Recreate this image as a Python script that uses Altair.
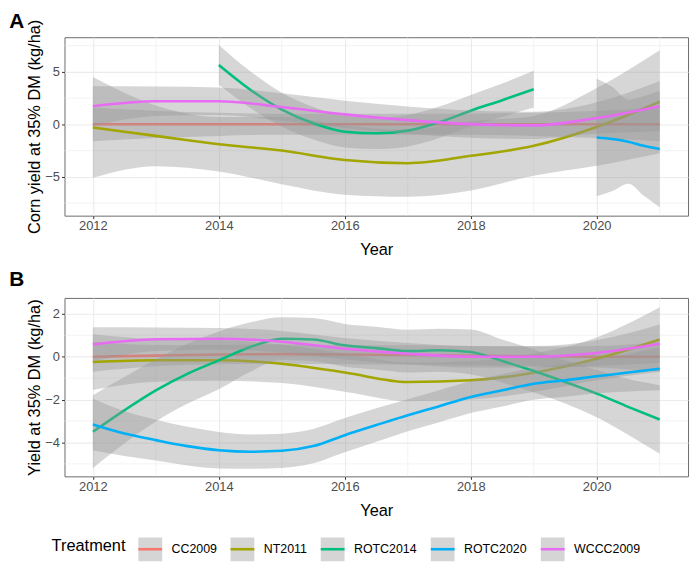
import altair as alt
import pandas as pd

treatments = ["CC2009", "NT2011", "ROTC2014", "ROTC2020", "WCCC2009"]
colors = ["#F8766D", "#A3A500", "#00BF7D", "#00B0F6", "#E76BF3"]

years = [2012, 2013, 2014, 2015, 2016, 2017, 2018, 2019, 2020, 2021]
half_years = [2012, 2012.5, 2013, 2013.5, 2014, 2014.5, 2015, 2015.5, 2016, 2016.5,
              2017, 2017.5, 2018, 2018.5, 2019, 2019.5, 2020, 2020.5, 2021]

# ---- Panel A: Corn yield (fit and half-width of the confidence band)
a_cc_year = years
a_cc_fit = [0.0, 0.0, 0.0, 0.0, 0.0, 0.0, 0.0, 0.0, 0.0, 0.0]
a_cc_hw = [1.6, 1.3, 1.1, 1.0, 1.0, 1.0, 1.0, 1.1, 1.3, 1.6]

a_nt_year = years
a_nt_fit = [-0.3, -1.1, -1.9, -2.5, -3.4, -3.7, -3.0, -2.05, -0.25, 2.15]
a_nt_hw = [4.8, 2.9, 2.6, 3.2, 3.3, 3.2, 3.3, 2.85, 3.7, 4.9]

a_r14_year = [2014, 2014.5, 2015, 2015.5, 2016, 2016.5, 2017, 2017.5, 2018, 2018.5, 2019]
a_r14_fit = [5.66, 3.3, 1.4, 0.1, -0.7, -0.85, -0.6, 0.2, 1.3, 2.3, 3.35]
a_r14_hw = [1.9, 1.75, 1.6, 1.55, 1.5, 1.5, 1.5, 1.5, 1.5, 1.6, 1.75]

a_r20_year = [2020, 2020.25, 2020.5, 2020.75, 2021]
a_r20_fit = [-1.25, -1.4, -1.65, -2.05, -2.36]
a_r20_hw = [5.6, 4.95, 4.0, 4.75, 5.55]

a_wc_year = years
a_wc_fit = [1.73, 2.2, 2.2, 1.65, 0.95, 0.4, 0.02, -0.1, 0.6, 1.73]
a_wc_hw = [1.9, 1.4, 1.3, 1.3, 1.3, 1.3, 1.3, 1.3, 1.5, 2.4]

# ---- Panel B: Yield
b_cc_year = years
b_cc_fit = [0.0, 0.05, 0.1, 0.12, 0.1, 0.08, 0.05, 0.02, 0.0, 0.0]
b_cc_hw = [0.7, 0.5, 0.45, 0.45, 0.45, 0.45, 0.45, 0.45, 0.5, 0.7]

b_nt_year = years
b_nt_fit = [-0.25, -0.17, -0.17, -0.33, -0.74, -1.18, -1.1, -0.75, -0.1, 0.8]
b_nt_hw = [1.3, 1.0, 0.95, 0.9, 0.9, 0.9, 0.9, 0.9, 1.0, 1.5]

b_r14_year = half_years
b_r14_fit = [-3.5, -2.5, -1.57, -0.8, -0.17, 0.45, 0.84, 0.8, 0.53, 0.4,
             0.26, 0.3, 0.22, -0.2, -0.67, -1.18, -1.72, -2.34, -2.93]
b_r14_hw = [1.7, 1.55, 1.45, 1.4, 1.35, 1.15, 1.0, 1.0, 1.0, 1.0,
            1.0, 1.0, 1.05, 1.0, 1.0, 1.0, 1.1, 1.3, 1.6]

b_r20_year = half_years
b_r20_fit = [-3.16, -3.58, -3.89, -4.17, -4.36, -4.43, -4.39, -4.17, -3.66, -3.19,
             -2.73, -2.31, -1.88, -1.57, -1.26, -1.1, -0.91, -0.74, -0.56]
b_r20_hw = [1.2, 1.05, 0.95, 0.9, 0.85, 0.8, 0.8, 0.8, 0.8, 0.78,
            0.75, 0.75, 0.75, 0.75, 0.75, 0.77, 0.8, 0.88, 1.0]

b_wc_year = years
b_wc_fit = [0.57, 0.81, 0.84, 0.7, 0.37, 0.14, 0.0, 0.0, 0.17, 0.6]
b_wc_hw = [0.8, 0.55, 0.5, 0.5, 0.5, 0.5, 0.5, 0.5, 0.6, 0.9]

x_major = [2012, 2014, 2016, 2018, 2020]
x_minor = [2013, 2015, 2017, 2019, 2021]
a_y_major = [-5, 0, 5]
a_y_minor = [-7.5, -2.5, 2.5, 7.5]
b_y_major = [-4, -2, 0, 2]
b_y_minor = [-5, -3, -1, 1]


def make_df(series):
    rows = []
    for name, yr, fit, hw in series:
        for y, f, h in zip(yr, fit, hw):
            rows.append({"Treatment": name, "Key": name, "Year": y,
                         "fit": f, "lo": f - h, "hi": f + h})
    return pd.DataFrame(rows)


df_a = make_df([
    ("CC2009", a_cc_year, a_cc_fit, a_cc_hw),
    ("NT2011", a_nt_year, a_nt_fit, a_nt_hw),
    ("ROTC2014", a_r14_year, a_r14_fit, a_r14_hw),
    ("ROTC2020", a_r20_year, a_r20_fit, a_r20_hw),
    ("WCCC2009", a_wc_year, a_wc_fit, a_wc_hw),
])
df_b = make_df([
    ("CC2009", b_cc_year, b_cc_fit, b_cc_hw),
    ("NT2011", b_nt_year, b_nt_fit, b_nt_hw),
    ("ROTC2014", b_r14_year, b_r14_fit, b_r14_hw),
    ("ROTC2020", b_r20_year, b_r20_fit, b_r20_hw),
    ("WCCC2009", b_wc_year, b_wc_fit, b_wc_hw),
])

FONT = "Liberation Sans"
LX, LY = -13, 503

common_leg = dict(orient="none", legendX=LX, legendY=LY, direction="horizontal",
                  title="Treatment", titleOrient="left", symbolStrokeWidth=2.6)
fill_legend = alt.Legend(symbolType="square", symbolOpacity=0.4, symbolStrokeColor="transparent",
                         labelOpacity=0, titleOpacity=0, labelColor="transparent",
                         titleColor="transparent", zindex=0, **common_leg)
stroke_legend = alt.Legend(symbolType="stroke", zindex=1, **common_leg)

fill_scale = alt.Scale(range=["#999999"] * 5)
stroke_scale = alt.Scale(domain=treatments, range=colors)


def build_panel(df, ydom, ymaj, ymin, ytitle, label, toff):
    xs = alt.Scale(domain=[2011.55, 2021.45], nice=False, zero=False)
    ys = alt.Scale(domain=ydom, nice=False, zero=False)
    ax_x = alt.Axis(values=x_major, format="d", title="Year", grid=True, gridColor="#EBEBEB",
                    gridWidth=1.1, domain=False, tickColor="#333333", tickSize=3, labelPadding=1,
                    labelFontSize=13, labelColor="#4D4D4D", labelFont=FONT, titleFont=FONT,
                    titleFontSize=16.5, titleFontWeight="normal", titleColor="black",
                    titlePadding=9, zindex=0)
    ax_y = alt.Axis(values=ymaj, format="d", title=ytitle, grid=True, gridColor="#EBEBEB",
                    gridWidth=1.1, domain=False, tickColor="#333333", tickSize=3, labelPadding=2,
                    labelFontSize=13, labelColor="#4D4D4D", labelFont=FONT, titleFont=FONT,
                    titleFontSize=16.5, titleFontWeight="normal", titleColor="black",
                    titlePadding=2, zindex=0)
    vgrid = alt.Chart(pd.DataFrame({"Year": x_minor})).mark_rule(
        color="#EBEBEB", strokeWidth=0.6).encode(x=alt.X("Year:Q", scale=xs, axis=ax_x))
    hgrid = alt.Chart(pd.DataFrame({"lo": ymin})).mark_rule(
        color="#EBEBEB", strokeWidth=0.6).encode(y=alt.Y("lo:Q", scale=ys, axis=ax_y))
    layers = [vgrid, hgrid]
    for t in treatments:
        sub = df[df["Treatment"] == t]
        band = alt.Chart(sub).mark_area(fillOpacity=0.4, interpolate="monotone").encode(
            x=alt.X("Year:Q", scale=xs, axis=None),
            y=alt.Y("lo:Q", scale=ys, axis=None),
            y2="hi:Q",
            fill=alt.Fill("Key:N", scale=fill_scale, legend=fill_legend),
        )
        line = alt.Chart(sub).mark_line(strokeWidth=2.6, interpolate="monotone").encode(
            x=alt.X("Year:Q", scale=xs, axis=None),
            y=alt.Y("fit:Q", scale=ys, axis=None),
            stroke=alt.Stroke("Treatment:N", scale=stroke_scale, legend=stroke_legend),
        )
        layers += [band, line]
    return alt.layer(*layers).resolve_axis(x="independent", y="independent").properties(
        width=629, height=180,
        title=alt.TitleParams(label, anchor="start", frame="bounds", fontSize=21, fontWeight="bold",
                              font=FONT, color="black", offset=toff, dx=-18),
    )


pa = build_panel(df_a, [-8.7, 8.3], a_y_major, a_y_minor, "Corn yield at 35% DM (kg/ha)", "A", -13)
pb = build_panel(df_b, [-5.58, 2.74], b_y_major, b_y_minor, "Yield at 35% DM (kg/ha)", "B", 8)

chart = alt.vconcat(pa, pb, spacing=10).properties(
    padding={"left": 0, "top": 0, "right": 2, "bottom": 2}
).configure_view(
    stroke="#6B6B6B", strokeWidth=1, fill="white"
).configure_legend(
    symbolSize=576, labelFontSize=12.5, titleFontSize=16.5, titleFontWeight="normal",
    labelFont=FONT, titleFont=FONT, labelOffset=8, columnPadding=8, titlePadding=11,
    labelLimit=200
)

chart.save("out.html", embed_options={"renderer": "svg", "actions": False})
